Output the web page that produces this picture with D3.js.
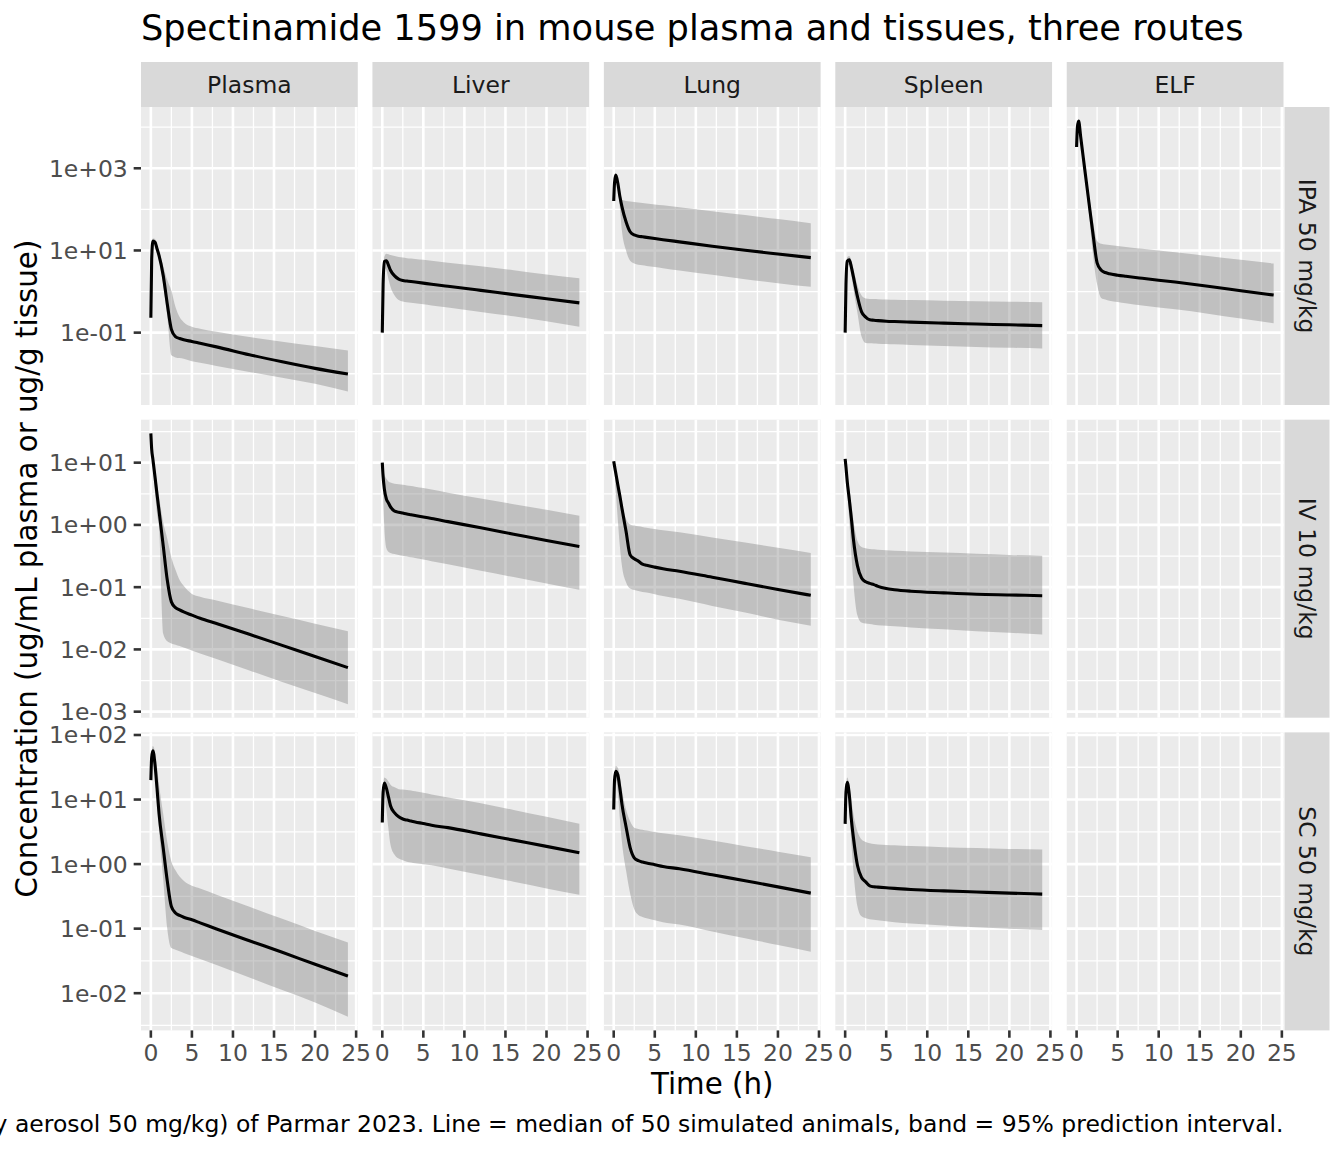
<!DOCTYPE html>
<html lang="en">
<head>
<meta charset="utf-8">
<title>Spectinamide 1599 in mouse plasma and tissues</title>
<script src="https://d3js.org/d3.v7.min.js"></script>
<style>
  body { margin: 0; background: #fff; }
  svg { display: block; font-family: "DejaVu Sans", sans-serif; }
</style>
</head>
<body>
<svg id="chart" width="1344" height="1152"></svg>
<script>
// sampling times (h)
const times = [0, 0.1, 0.25, 0.5, 0.75, 1, 1.5, 2, 2.5, 3, 3.5, 4, 5, 6, 8, 12, 16, 20, 24];
const routes = ["IPA 50 mg/kg", "IV 10 mg/kg", "SC 50 mg/kg"];
const tissues = ["Plasma", "Liver", "Lung", "Spleen", "ELF"];
const xBreaks = [0, 5, 10, 15, 20, 25];
// y breaks of each route row, as powers of ten
const yBreakExp = [[-1, 1, 3], [-3, -2, -1, 0, 1], [-2, -1, 0, 1, 2]];

// median and 95% prediction interval of 50 simulated animals, per panel
const ipaPlasma = {
  median: [0.23, 6, 17, 16, 11, 7.5, 2.5, 0.5, 0.12, 0.08, 0.072, 0.067, 0.061, 0.055, 0.045, 0.029, 0.0195, 0.0135, 0.0098],
  lower:  [0.21, 5, 15, 13.5, 9, 5.5, 1.5, 0.25, 0.028, 0.025, 0.024, 0.023, 0.020, 0.0185, 0.0155, 0.011, 0.008, 0.0057, 0.0037],
  upper:  [0.25, 7, 19.5, 19, 13, 9.5, 4.2, 1.9, 1.05, 0.42, 0.24, 0.18, 0.14, 0.125, 0.105, 0.078, 0.06, 0.047, 0.037]
};
const ipaLiver = {
  median: [0.1, 1.5, 5.4, 5.6, 4.4, 3.3, 2.4, 2.0, 1.85, 1.8, 1.75, 1.7, 1.6, 1.5, 1.35, 1.07, 0.84, 0.67, 0.53],
  lower:  [0.095, 1.0, 3.8, 3.3, 2.0, 1.3, 0.8, 0.62, 0.57, 0.55, 0.535, 0.52, 0.49, 0.46, 0.41, 0.32, 0.25, 0.19, 0.14],
  upper:  [0.11, 2, 7, 8.3, 8.1, 7.7, 7.3, 6.9, 6.7, 6.5, 6.35, 6.2, 5.9, 5.6, 5.0, 4.1, 3.3, 2.6, 2.1]
};
const ipaLung = {
  median: [160, 450, 680, 430, 205, 117, 50, 28.5, 23.8, 22.3, 21.5, 20.8, 19.5, 18.3, 16.2, 12.7, 10.1, 8.2, 6.7],
  lower:  [155, 420, 620, 330, 110, 30, 10, 5.6, 4.8, 4.5, 4.35, 4.2, 3.95, 3.7, 3.25, 2.55, 2.0, 1.6, 1.3],
  upper:  [165, 470, 720, 520, 290, 175, 160, 155, 151, 147, 143, 139.5, 132, 125.5, 112.5, 90.5, 72.5, 58, 46]
};
const ipaSpleen = {
  median: [0.1, 1.5, 5.5, 5.9, 4.0, 2.3, 0.75, 0.32, 0.24, 0.205, 0.2, 0.196, 0.19, 0.186, 0.18, 0.17, 0.162, 0.155, 0.148],
  lower:  [0.09, 1.3, 4.2, 4.4, 2.6, 1.2, 0.3, 0.08, 0.056, 0.055, 0.0545, 0.054, 0.053, 0.052, 0.05, 0.047, 0.045, 0.043, 0.041],
  upper:  [0.11, 1.7, 6.8, 7.3, 5.6, 3.5, 1.4, 0.8, 0.68, 0.66, 0.655, 0.65, 0.64, 0.63, 0.62, 0.6, 0.58, 0.565, 0.55]
};
const ipaElf = {
  median: [3300, 10000, 14000, 5800, 2300, 920, 150, 25, 5.0, 3.3, 2.9, 2.7, 2.5, 2.35, 2.1, 1.7, 1.35, 1.05, 0.82],
  lower:  [3200, 9500, 13500, 5000, 1800, 650, 80, 8, 1.5, 0.7, 0.64, 0.6, 0.56, 0.52, 0.46, 0.37, 0.29, 0.22, 0.17],
  upper:  [3400, 10500, 14500, 6500, 2800, 1200, 230, 50, 17, 14.5, 14, 13.5, 12.8, 12.2, 11, 9, 7.3, 5.9, 4.8]
};
const ivPlasma = {
  median: [29.5, 16.5, 11.3, 6.0, 3.1, 1.67, 0.47, 0.13, 0.058, 0.047, 0.043, 0.04, 0.0355, 0.0316, 0.026, 0.0175, 0.0116, 0.0077, 0.0051],
  lower:  [29.3, 14, 8.5, 3.5, 1.5, 0.9, 0.018, 0.0135, 0.0125, 0.0119, 0.0113, 0.0107, 0.0096, 0.0086, 0.007, 0.0046, 0.003, 0.002, 0.00132],
  upper:  [29.7, 20, 14, 8, 4.6, 2.8, 1.1, 0.6, 0.3, 0.19, 0.13, 0.105, 0.078, 0.07, 0.061, 0.0457, 0.0344, 0.0259, 0.0195]
};
const ivLiver = {
  median: [10, 6, 3.8, 2.6, 2.25, 1.95, 1.66, 1.6, 1.55, 1.5, 1.46, 1.42, 1.34, 1.27, 1.13, 0.9, 0.71, 0.56, 0.45],
  lower:  [9.5, 3, 0.9, 0.42, 0.37, 0.355, 0.34, 0.33, 0.32, 0.311, 0.302, 0.294, 0.277, 0.262, 0.233, 0.184, 0.145, 0.115, 0.091],
  upper:  [10.5, 8, 6.5, 5.5, 5.0, 4.8, 4.6, 4.5, 4.4, 4.3, 4.2, 4.1, 3.9, 3.7, 3.3, 2.65, 2.15, 1.75, 1.41]
};
const ivLung = {
  median: [10.5, 8.8, 6.8, 4.4, 2.9, 1.86, 0.79, 0.33, 0.285, 0.262, 0.235, 0.225, 0.21, 0.198, 0.18, 0.144, 0.115, 0.092, 0.074],
  lower:  [10, 7, 3.5, 1.2, 0.45, 0.22, 0.12, 0.095, 0.09, 0.087, 0.084, 0.082, 0.077, 0.072, 0.065, 0.05, 0.039, 0.03, 0.024],
  upper:  [11, 10, 8, 5.5, 3.5, 2.2, 1.25, 1.02, 0.98, 0.95, 0.93, 0.9, 0.86, 0.82, 0.765, 0.63, 0.52, 0.43, 0.355]
};
const ivSpleen = {
  median: [11.5, 8.5, 5, 2.6, 1.3, 0.6, 0.22, 0.14, 0.122, 0.115, 0.11, 0.103, 0.095, 0.091, 0.086, 0.081, 0.077, 0.075, 0.073],
  lower:  [11, 7, 3.5, 1.2, 0.35, 0.12, 0.035, 0.027, 0.026, 0.0255, 0.025, 0.0245, 0.024, 0.0235, 0.0225, 0.021, 0.0195, 0.0185, 0.0174],
  upper:  [12, 10, 7, 4, 2.2, 1.2, 0.55, 0.44, 0.42, 0.41, 0.405, 0.4, 0.39, 0.385, 0.375, 0.36, 0.345, 0.33, 0.32]
};
const scPlasma = {
  median: [20, 45, 57, 35, 15, 6, 1.8, 0.55, 0.22, 0.175, 0.16, 0.15, 0.137, 0.123, 0.099, 0.065, 0.043, 0.028, 0.0184],
  lower:  [19, 40, 48, 28, 11, 3.5, 0.6, 0.1, 0.05, 0.0473, 0.0445, 0.042, 0.0378, 0.034, 0.0273, 0.0175, 0.0112, 0.0072, 0.0043],
  upper:  [21, 55, 67.7, 55, 32, 17, 6, 2.2, 1.1, 0.8, 0.64, 0.55, 0.46, 0.42, 0.335, 0.218, 0.142, 0.092, 0.061]
};
const scLiver = {
  median: [4.4, 13, 18, 15, 11, 8, 6.2, 5.4, 5.0, 4.8, 4.65, 4.5, 4.25, 4.0, 3.67, 2.94, 2.35, 1.88, 1.5],
  lower:  [4.2, 10, 12, 7, 3.5, 2.0, 1.4, 1.22, 1.15, 1.09, 1.06, 1.03, 0.99, 0.96, 0.857, 0.676, 0.533, 0.42, 0.335],
  upper:  [4.6, 15, 22, 21, 19, 17, 15.5, 14.5, 14.3, 14.1, 13.8, 13.4, 12.7, 12.0, 10.8, 8.8, 6.9, 5.4, 4.2]
};
const scLung = {
  median: [7, 20, 27.5, 24, 15, 8.5, 3.8, 1.8, 1.25, 1.13, 1.08, 1.04, 0.98, 0.92, 0.847, 0.683, 0.551, 0.444, 0.355],
  lower:  [6.5, 15, 20, 13, 5, 2.2, 0.8, 0.35, 0.2, 0.163, 0.152, 0.145, 0.135, 0.126, 0.116, 0.0905, 0.0711, 0.0558, 0.044],
  upper:  [7.2, 25, 33, 31, 23, 14, 7, 4.6, 3.66, 3.5, 3.4, 3.3, 3.15, 3.0, 2.8, 2.31, 1.89, 1.56, 1.28]
};
const scSpleen = {
  median: [4.2, 13, 18.5, 12, 5, 2.6, 0.95, 0.62, 0.53, 0.46, 0.445, 0.44, 0.43, 0.42, 0.405, 0.385, 0.37, 0.355, 0.343],
  lower:  [4.0, 11, 14, 7, 2.2, 0.8, 0.22, 0.155, 0.145, 0.14, 0.137, 0.135, 0.13, 0.126, 0.12, 0.112, 0.105, 0.1, 0.095],
  upper:  [4.4, 15, 22, 17, 10, 6, 3.2, 2.4, 2.2, 2.1, 2.05, 2.02, 1.98, 1.95, 1.9, 1.83, 1.77, 1.72, 1.68]
};

// which series goes in which facet (row = route, col = tissue)
const panels = [
  { row: 0, col: 0, d: ipaPlasma }, { row: 0, col: 1, d: ipaLiver }, { row: 0, col: 2, d: ipaLung },
  { row: 0, col: 3, d: ipaSpleen }, { row: 0, col: 4, d: ipaElf },
  { row: 1, col: 0, d: ivPlasma }, { row: 1, col: 1, d: ivLiver }, { row: 1, col: 2, d: ivLung },
  { row: 1, col: 3, d: ivSpleen },
  { row: 2, col: 0, d: scPlasma }, { row: 2, col: 1, d: scLiver }, { row: 2, col: 2, d: scLung },
  { row: 2, col: 3, d: scSpleen }
];

const title = "Spectinamide 1599 in mouse plasma and tissues, three routes";
const caption = "PBPK model for IV 10 mg/kg, SC 50 mg/kg and IPA (intrapulmonary aerosol 50 mg/kg) of Parmar 2023. Line = median of 50 simulated animals, band = 95% prediction interval.";

// ---- layout (ggplot theme_grey at 192 dpi) ----
const panelLeft = 141, panelRight = 1283.5, gap = 14.67;
const panelTop = 107, panelBottom = 1030.4;
const colW = (panelRight - panelLeft - 4 * gap) / 5;
const rowH = (panelBottom - panelTop - 2 * gap) / 3;
const stripH = 45;
const tickLen = 7.33;
const axisFont = 23.47, titleFont = 35.2, axisTitleFont = 29.33;

const svg = d3.select("#chart");
svg.append("rect").attr("width", 1344).attr("height", 1152).attr("fill", "#fff");

const colX = i => panelLeft + i * (colW + gap);
const rowY = i => panelTop + i * (rowH + gap);

// x scales: one per column, data 0..24 expanded 5%
const xExt = d3.extent(times);
const xPad = (xExt[1] - xExt[0]) * 0.05;
const xScales = tissues.map((t, i) => d3.scaleLinear()
  .domain([xExt[0] - xPad, xExt[1] + xPad])
  .range([colX(i), colX(i) + colW]));

// y scales: free per row (log10), expanded 5% in log space
const yScales = routes.map((r, ri) => {
  const rp = panels.filter(p => p.row === ri);
  const lo = Math.log10(d3.min(rp, p => d3.min([...p.d.lower, ...p.d.median])));
  const hi = Math.log10(d3.max(rp, p => d3.max([...p.d.upper, ...p.d.median])));
  const pad = (hi - lo) * 0.05;
  return d3.scaleLog()
    .domain([10 ** (lo - pad), 10 ** (hi + pad)])
    .range([rowY(ri) + rowH, rowY(ri)]);
});

const fmtExp = e => "1e" + (e < 0 ? "-" : "+") + String(Math.abs(e)).padStart(2, "0");

const defs = svg.append("defs");

// ---- panels ----
routes.forEach((r, ri) => {
  const y = yScales[ri];
  const [d0, d1] = y.domain().map(Math.log10);
  const br = yBreakExp[ri];
  const step = br[1] - br[0];
  const minor = d3.range(br[0] - step / 2, br[br.length - 1] + step, step)
    .filter(e => e >= d0 && e <= d1);

  tissues.forEach((t, ci) => {
    const x = xScales[ci];
    const [x0, x1] = x.range();
    const [yb, yt] = y.range();
    const g = svg.append("g");

    g.append("rect")
      .attr("x", x0).attr("y", yt)
      .attr("width", x1 - x0).attr("height", yb - yt)
      .attr("fill", "#EBEBEB");

    // minor grid
    const xMinor = xBreaks.slice(0, -1).map(v => v + 2.5).filter(v => v >= x.domain()[0] && v <= x.domain()[1]);
    g.selectAll(null).data(minor).join("line")
      .attr("x1", x0).attr("x2", x1)
      .attr("y1", e => y(10 ** e)).attr("y2", e => y(10 ** e))
      .attr("stroke", "#fff").attr("stroke-width", 1.3);
    g.selectAll(null).data(xMinor).join("line")
      .attr("x1", v => x(v)).attr("x2", v => x(v))
      .attr("y1", yt).attr("y2", yb)
      .attr("stroke", "#fff").attr("stroke-width", 1.3);
    // major grid
    g.selectAll(null).data(br).join("line")
      .attr("x1", x0).attr("x2", x1)
      .attr("y1", e => y(10 ** e)).attr("y2", e => y(10 ** e))
      .attr("stroke", "#fff").attr("stroke-width", 2.6);
    g.selectAll(null).data(xBreaks).join("line")
      .attr("x1", v => x(v)).attr("x2", v => x(v))
      .attr("y1", yt).attr("y2", yb)
      .attr("stroke", "#fff").attr("stroke-width", 2.6);

    const p = panels.find(q => q.row === ri && q.col === ci);
    if (p) {
      const clipId = `clip-${ri}-${ci}`;
      defs.append("clipPath").attr("id", clipId)
        .append("rect").attr("x", x0).attr("y", yt).attr("width", x1 - x0).attr("height", yb - yt);
      const rows = times.map((tm, i) => ({ t: tm, med: p.d.median[i], lo: p.d.lower[i], hi: p.d.upper[i] }));
      const area = d3.area()
        .x(d => x(d.t)).y0(d => y(d.lo)).y1(d => y(d.hi))
        .curve(d3.curveMonotoneX);
      const line = d3.line()
        .x(d => x(d.t)).y(d => y(d.med))
        .curve(d3.curveMonotoneX);
      const pg = g.append("g").attr("clip-path", `url(#${clipId})`);
      pg.append("path").datum(rows)
        .attr("d", area)
        .attr("fill", "#7F7F7F").attr("fill-opacity", 0.4);
      pg.append("path").datum(rows)
        .attr("d", line)
        .attr("fill", "none").attr("stroke", "#000").attr("stroke-width", 3.1)
        .attr("stroke-linejoin", "round");
    }

    // x axis on bottom row only
    if (ri === routes.length - 1) {
      g.selectAll(null).data(xBreaks).join("line")
        .attr("x1", v => x(v)).attr("x2", v => x(v))
        .attr("y1", yb).attr("y2", yb + tickLen)
        .attr("stroke", "#333").attr("stroke-width", 2.6);
      g.selectAll(null).data(xBreaks).join("text")
        .attr("x", v => x(v)).attr("y", yb + tickLen + 5.87 + 17.6)
        .attr("text-anchor", "middle")
        .attr("font-size", axisFont).attr("fill", "#4D4D4D")
        .text(v => v);
    }
    // y axis on first column only
    if (ci === 0) {
      g.selectAll(null).data(br).join("line")
        .attr("x1", x0 - tickLen).attr("x2", x0)
        .attr("y1", e => y(10 ** e)).attr("y2", e => y(10 ** e))
        .attr("stroke", "#333").attr("stroke-width", 2.6);
      g.selectAll(null).data(br).join("text")
        .attr("x", x0 - tickLen - 5.87).attr("y", e => y(10 ** e))
        .attr("dy", "0.36em")
        .attr("text-anchor", "end")
        .attr("font-size", axisFont).attr("fill", "#4D4D4D")
        .text(fmtExp);
    }
  });

  // row strip on the right
  const sx = panelRight + 1;
  const sy = rowY(ri);
  svg.append("rect")
    .attr("x", sx).attr("y", sy).attr("width", stripH).attr("height", rowH)
    .attr("fill", "#D9D9D9");
  svg.append("text")
    .attr("transform", `translate(${sx + stripH / 2},${sy + rowH / 2}) rotate(90)`)
    .attr("text-anchor", "middle").attr("dy", "0.36em")
    .attr("font-size", axisFont).attr("fill", "#1A1A1A")
    .text(r);
});

// column strips on top
tissues.forEach((t, ci) => {
  svg.append("rect")
    .attr("x", colX(ci)).attr("y", panelTop - stripH)
    .attr("width", colW).attr("height", stripH)
    .attr("fill", "#D9D9D9");
  svg.append("text")
    .attr("x", colX(ci) + colW / 2).attr("y", panelTop - stripH / 2)
    .attr("dy", "0.36em").attr("text-anchor", "middle")
    .attr("font-size", axisFont).attr("fill", "#1A1A1A")
    .text(t);
});

// titles
svg.append("text")
  .attr("x", panelLeft).attr("y", 40)
  .attr("font-size", titleFont).attr("fill", "#000")
  .text(title);

svg.append("text")
  .attr("x", (panelLeft + panelRight) / 2).attr("y", 1094)
  .attr("text-anchor", "middle")
  .attr("font-size", axisTitleFont).attr("fill", "#000")
  .text("Time (h)");

svg.append("text")
  .attr("transform", `translate(37,${(panelTop + panelBottom) / 2}) rotate(-90)`)
  .attr("text-anchor", "middle")
  .attr("font-size", axisTitleFont).attr("fill", "#000")
  .text("Concentration (ug/mL plasma or ug/g tissue)");

svg.append("text")
  .attr("x", panelRight).attr("y", 1131.5)
  .attr("text-anchor", "end")
  .attr("font-size", axisFont).attr("fill", "#000")
  .text(caption);
</script>
</body>
</html>
